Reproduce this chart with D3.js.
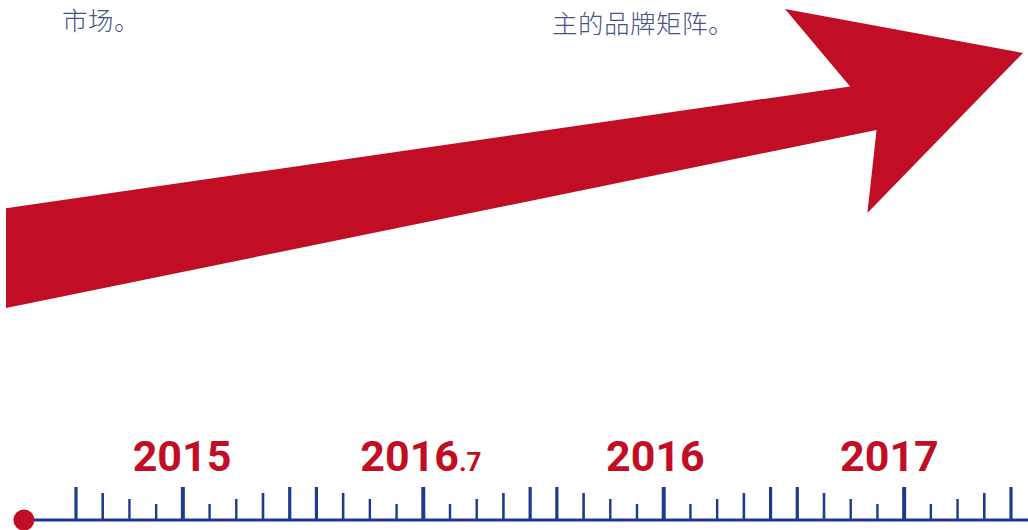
<!DOCTYPE html>
<html><head><meta charset="utf-8">
<script src="https://cdn.jsdelivr.net/npm/d3@7"></script>
<style>body{margin:0;background:#fff;overflow:hidden}</style>
</head><body>
<svg id="c" width="1028" height="530"></svg>
<script>
// ---- data ----
const yearMain   = ["2015", "2016", "2016", "2017"];
const yearSuffix = ["", ".7", "", ""];
const yearPos    = [3.97, 12.91, 21.69, 30.45];          // position on the timeline (tick units)
const tickLevel  = [4,3,2,1,5,1,2,3,4,4,3,2,1,5,1,2,3,4,4,3,2,1,5,1,2,3,4,4,3,2,1,5,1,2,3,4];
const timelineStart = -1.95;
const notes = ["市场。", "主的品牌矩阵。"];
const arrowX = [0, 0.830, 0.766, 1, 0.847, 0.856, 0];
const arrowY = [0.334, 0.741, 1, 0.853, 0.318, 0.595, 0];

// ---- styles ----
const RED = "#c10e24", BLUE = "#1d3a8e", TXT = "#45548c";
const svg = d3.select("#c");

// arrow
const ax = d3.scaleLinear().domain([0, 1]).range([6, 1023]);
const ay = d3.scaleLinear().domain([0, 1]).range([308, 9]);
const arrowPts = arrowX.map((v, i) => [ax(v), ay(arrowY[i])]);
svg.append("path")
  .attr("d", d3.line()(arrowPts) + "Z")
  .attr("fill", RED);

// notes
const noteX = [62, 552], noteY = [30, 33];
svg.selectAll("text.note").data(notes).join("text")
  .attr("class", "note")
  .attr("x", (d, i) => noteX[i]).attr("y", (d, i) => noteY[i])
  .attr("font-family", "'Noto Sans CJK SC', sans-serif")
  .attr("font-weight", 300)
  .attr("font-size", 25.5).attr("letter-spacing", 0.5)
  .attr("fill", TXT)
  .text(d => d);

// timeline
const x = d3.scaleLinear().domain([0, tickLevel.length - 1]).range([76, 1011]);
const lineY = 520;
const hScale = d3.scaleOrdinal().domain([1, 2, 3, 4, 5]).range([16, 21, 27, 33, 33]);
const wScale = d3.scaleOrdinal().domain([1, 2, 3, 4, 5]).range([2.4, 2.4, 2.6, 3.2, 4]);

svg.append("line")
  .attr("x1", x(timelineStart)).attr("x2", 1028)
  .attr("y1", lineY).attr("y2", lineY)
  .attr("stroke", BLUE).attr("stroke-width", 3);

svg.selectAll("line.tick").data(tickLevel).join("line")
  .attr("class", "tick")
  .attr("x1", (d, i) => x(i)).attr("x2", (d, i) => x(i))
  .attr("y1", lineY).attr("y2", d => lineY - hScale(d))
  .attr("stroke", BLUE).attr("stroke-width", d => wScale(d));

svg.append("circle")
  .attr("cx", x(timelineStart)).attr("cy", lineY).attr("r", 10.5)
  .attr("fill", RED);

// year labels
const lbl = svg.selectAll("text.year").data(yearMain).join("text")
  .attr("class", "year")
  .attr("x", (d, i) => x(yearPos[i])).attr("y", 471)
  .attr("text-anchor", "middle")
  .attr("font-family", "Roboto, sans-serif")
  .attr("font-weight", 700)
  .attr("font-size", 43)
  .attr("fill", RED);
lbl.append("tspan").text(d => d);
lbl.append("tspan").attr("font-size", 26)
  .text((d, i) => yearSuffix[i]);
</script>
</body></html>
